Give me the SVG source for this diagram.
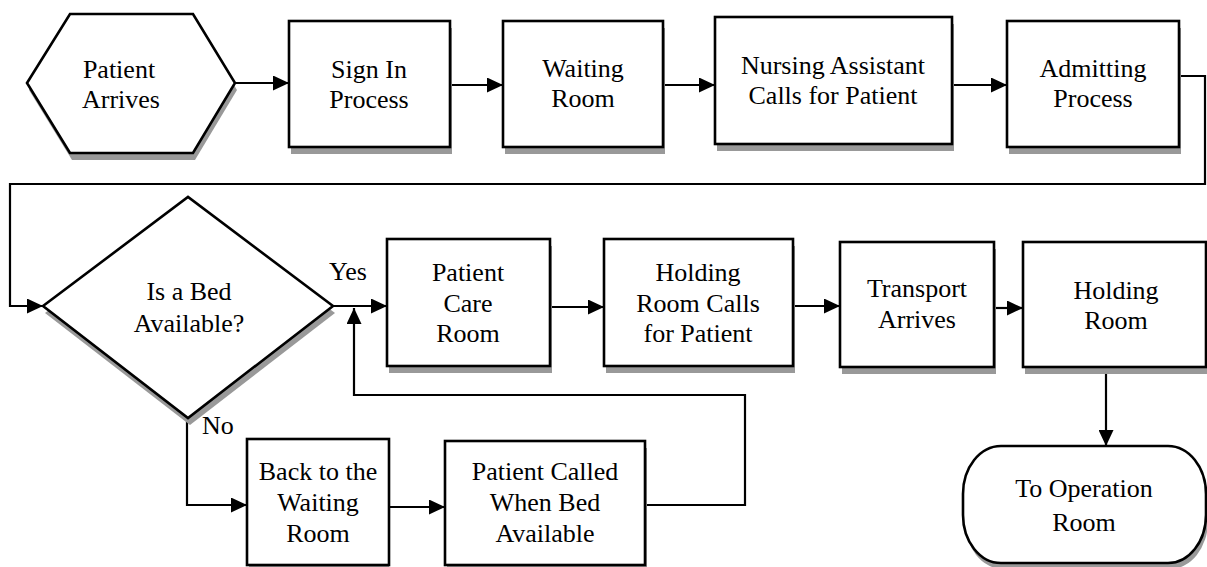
<svg xmlns="http://www.w3.org/2000/svg" width="1207" height="567" viewBox="0 0 1207 567" font-family="'Liberation Serif', 'Times New Roman', Times, serif">
<defs>
<style>
.box{fill:#fff;stroke:#000;stroke-width:2.6}
.sh{fill:#999;stroke:none}
text{font-family:'Liberation Serif','Times New Roman',Times,serif;font-size:26px;fill:#000}
.t{text-anchor:middle}
.c{fill:none;stroke:#000;stroke-width:2.2}
</style>
<marker id="arr" markerWidth="16" markerHeight="15" refX="16" refY="7.5" orient="auto" markerUnits="userSpaceOnUse"><path d="M0,0 L16,7.5 L0,15 z" fill="#000"/></marker>
</defs>
<rect width="1207" height="567" fill="#fff"/>
<g id="connectors">
<path class="c" d="M235,83 H289" marker-end="url(#arr)"/>
<path class="c" d="M450,85 H503" marker-end="url(#arr)"/>
<path class="c" d="M663,85 H715" marker-end="url(#arr)"/>
<path class="c" d="M952,85 H1007" marker-end="url(#arr)"/>
<path class="c" d="M1179,76 H1205 V184 H10 V306 H43" marker-end="url(#arr)"/>
<path class="c" d="M333,306 H387" marker-end="url(#arr)"/>
<path class="c" d="M550,307 H604" marker-end="url(#arr)"/>
<path class="c" d="M793,306 H840" marker-end="url(#arr)"/>
<path class="c" d="M994,308 H1023" marker-end="url(#arr)"/>
<path class="c" d="M1106,367 V446" marker-end="url(#arr)"/>
<path class="c" d="M187,418 V505 H247" marker-end="url(#arr)"/>
<path class="c" d="M389,507 H445" marker-end="url(#arr)"/>
<path class="c" d="M645,505 H745 V395 H354 V308" marker-end="url(#arr)"/>
<text x="329" y="280">Yes</text>
<text x="202" y="434">No</text>
</g>
<g id="n-arrives">
<polygon class="sh" points="29,90 72,21 195,21 237,90 195,160 72,160"/>
<polygon class="box" points="27,83 70,14 193,14 235,83 193,153 70,153"/>
<text class="t" x="119" y="78">Patient</text>
<text class="t" x="121" y="108">Arrives</text>
</g>
<g id="n-signin">
<rect class="sh" x="291" y="28" width="161" height="126"/>
<rect class="box" x="289" y="21" width="161" height="126"/>
<text class="t" x="369" y="78">Sign In</text>
<text class="t" x="369" y="108">Process</text>
</g>
<g id="n-waiting">
<rect class="sh" x="505" y="28" width="160" height="126"/>
<rect class="box" x="503" y="21" width="160" height="126"/>
<text class="t" x="583" y="77">Waiting</text>
<text class="t" x="583" y="107">Room</text>
</g>
<g id="n-nursing">
<rect class="sh" x="717" y="24" width="237" height="127"/>
<rect class="box" x="715" y="17" width="237" height="127"/>
<text class="t" x="833" y="74">Nursing Assistant</text>
<text class="t" x="833" y="104">Calls for Patient</text>
</g>
<g id="n-admitting">
<rect class="sh" x="1009" y="28" width="172" height="126"/>
<rect class="box" x="1007" y="21" width="172" height="126"/>
<text class="t" x="1093" y="77">Admitting</text>
<text class="t" x="1093" y="107">Process</text>
</g>
<g id="n-decision">
<polygon class="sh" points="45,313 190,204 335,313 190,425"/>
<polygon class="box" points="43,306 188,197 333,306 188,418"/>
<text class="t" x="189" y="300">Is a Bed</text>
<text class="t" x="189" y="332">Available?</text>
</g>
<g id="n-care">
<rect class="sh" x="389" y="246" width="163" height="127"/>
<rect class="box" x="387" y="239" width="163" height="127"/>
<text class="t" x="468" y="281">Patient</text>
<text class="t" x="468" y="312">Care</text>
<text class="t" x="468" y="342">Room</text>
</g>
<g id="n-holdcalls">
<rect class="sh" x="606" y="246" width="189" height="127"/>
<rect class="box" x="604" y="239" width="189" height="127"/>
<text class="t" x="698" y="281">Holding</text>
<text class="t" x="698" y="312">Room Calls</text>
<text class="t" x="698" y="342">for Patient</text>
</g>
<g id="n-transport">
<rect class="sh" x="842" y="249" width="154" height="125"/>
<rect class="box" x="840" y="242" width="154" height="125"/>
<text class="t" x="917" y="297">Transport</text>
<text class="t" x="917" y="328">Arrives</text>
</g>
<g id="n-holding">
<rect class="sh" x="1025" y="249" width="183" height="125"/>
<rect class="box" x="1023" y="242" width="183" height="125"/>
<text class="t" x="1116" y="299">Holding</text>
<text class="t" x="1116" y="329">Room</text>
</g>
<g id="n-operation">
<rect class="sh" x="965" y="452" width="243" height="117" rx="38" ry="48"/>
<rect class="box" x="963" y="446" width="243" height="117" rx="38" ry="48"/>
<text class="t" x="1084" y="497">To Operation</text>
<text class="t" x="1084" y="531">Room</text>
</g>
<g id="n-back">
<rect class="sh" x="249" y="446" width="140" height="126"/>
<rect class="box" x="247" y="439" width="142" height="126"/>
<text class="t" x="318" y="480">Back to the</text>
<text class="t" x="318" y="511">Waiting</text>
<text class="t" x="318" y="542">Room</text>
</g>
<g id="n-called">
<rect class="sh" x="447" y="448" width="200" height="124"/>
<rect class="box" x="445" y="441" width="200" height="124"/>
<text class="t" x="545" y="480">Patient Called</text>
<text class="t" x="545" y="511">When Bed</text>
<text class="t" x="545" y="542">Available</text>
</g>
</svg>
